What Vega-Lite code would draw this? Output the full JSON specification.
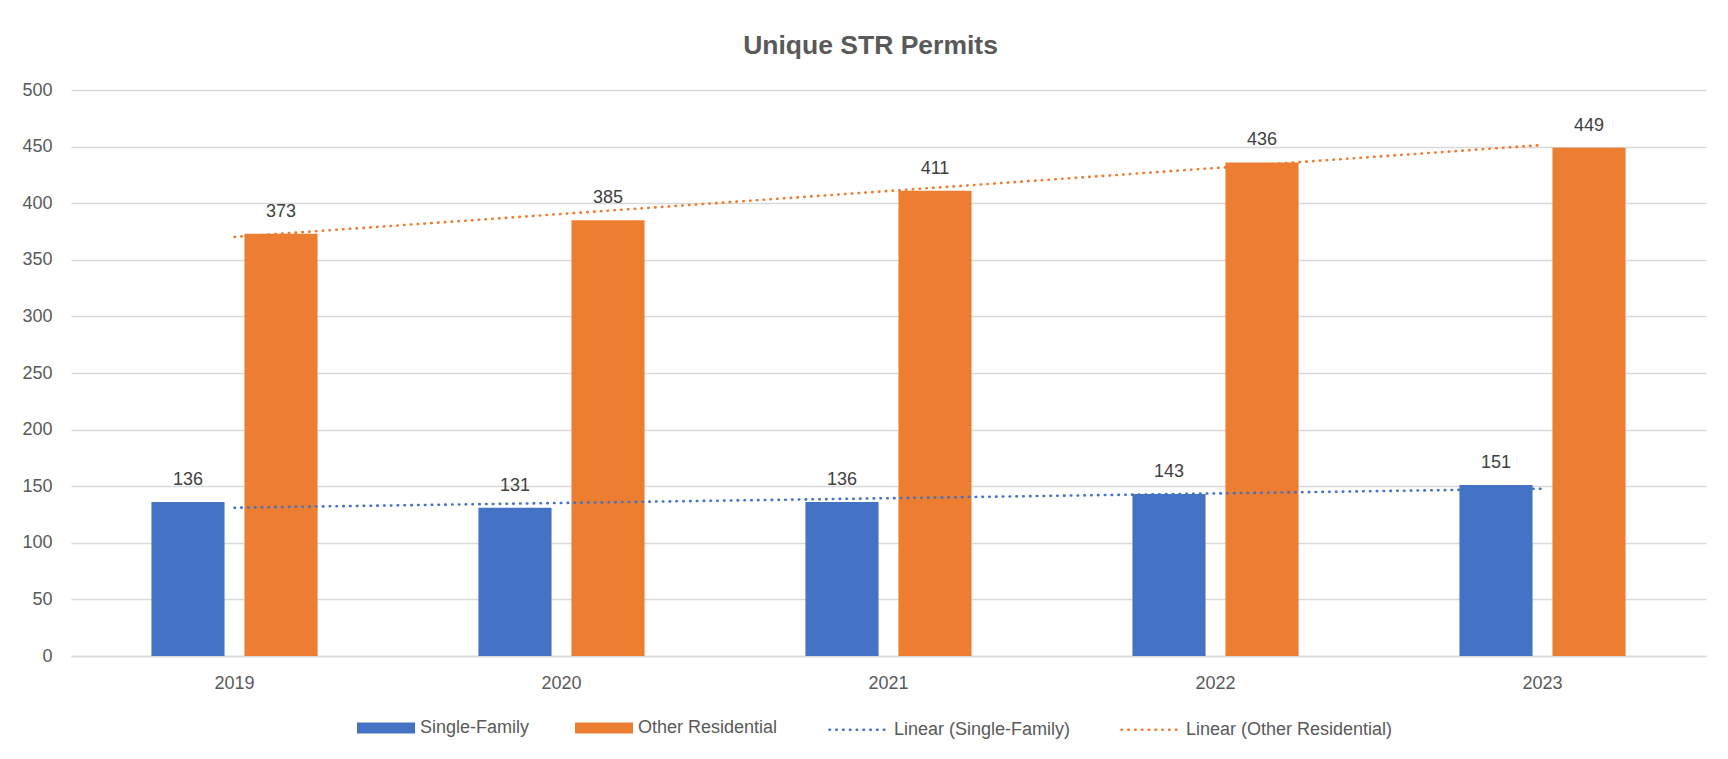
{
  "$schema": "https://vega.github.io/schema/vega-lite/v6.json",
  "width": 1635,
  "height": 566,
  "autosize": "none",
  "padding": {"left": 71, "top": 90, "right": 22, "bottom": 103},
  "background": "white",
  "title": {
    "text": "Unique STR Permits",
    "anchor": "middle",
    "font": "Liberation Sans",
    "fontSize": 26.5,
    "fontWeight": "bold",
    "color": "#595959",
    "offset": 22,
    "dx": -18
  },
  "datasets": {
    "permits": [
      {"year": "2019", "series": "Single-Family", "value": 136},
      {"year": "2019", "series": "Other Residential", "value": 373},
      {"year": "2020", "series": "Single-Family", "value": 131},
      {"year": "2020", "series": "Other Residential", "value": 385},
      {"year": "2021", "series": "Single-Family", "value": 136},
      {"year": "2021", "series": "Other Residential", "value": 411},
      {"year": "2022", "series": "Single-Family", "value": 143},
      {"year": "2022", "series": "Other Residential", "value": 436},
      {"year": "2023", "series": "Single-Family", "value": 151},
      {"year": "2023", "series": "Other Residential", "value": 449}
    ],
    "trend": [
      {"year": "2019", "series": "Linear (Single-Family)", "value": 131},
      {"year": "2023", "series": "Linear (Single-Family)", "value": 147.8},
      {"year": "2019", "series": "Linear (Other Residential)", "value": 370.2},
      {"year": "2023", "series": "Linear (Other Residential)", "value": 451.4}
    ]
  },
  "config": {
    "view": {"stroke": null},
    "font": "Liberation Sans"
  },
  "layer": [
    {
      "data": {"name": "permits"},
      "mark": {"type": "bar"},
      "encoding": {
        "x": {
          "field": "year",
          "type": "nominal",
          "scale": {"paddingInner": 0.492, "paddingOuter": 0.246},
          "axis": {
            "title": null,
            "labelAngle": 0,
            "labelFont": "Liberation Sans",
            "labelFontSize": 18,
            "labelColor": "#595959",
            "ticks": false,
            "domain": true,
            "domainColor": "#D9D9D9",
            "domainWidth": 1.3,
            "labelPadding": 18,
            "grid": false
          }
        },
        "xOffset": {
          "field": "series",
          "type": "nominal",
          "scale": {"domain": ["Single-Family", "Other Residential"], "paddingInner": 0.214, "paddingOuter": 0}
        },
        "y": {
          "field": "value",
          "type": "quantitative",
          "scale": {"domain": [0, 500], "nice": false},
          "axis": {
            "title": null,
            "values": [0, 50, 100, 150, 200, 250, 300, 350, 400, 450, 500],
            "labelFont": "Liberation Sans",
            "labelFontSize": 18,
            "labelColor": "#595959",
            "domain": false,
            "ticks": false,
            "grid": true,
            "gridColor": "#D9D9D9",
            "gridWidth": 1.3,
            "labelPadding": 19
          }
        },
        "color": {
          "field": "series",
          "type": "nominal",
          "scale": {
            "domain": ["Single-Family", "Other Residential"],
            "range": ["#4472C4", "#ED7D31"]
          },
          "legend": {
            "title": null,
            "orient": "none",
            "direction": "horizontal",
            "legendX": 286,
            "legendY": 609,
            "labelFont": "Liberation Sans",
            "labelFontSize": 18,
            "labelColor": "#595959",
            "labelLimit": 400,
            "symbolType": "M-1,-0.19L1,-0.19L1,0.19L-1,0.19Z",
            "symbolSize": 3364,
            "symbolStrokeWidth": 0,
            "symbolOpacity": 1,
            "labelOffset": 5,
            "columnPadding": 45
          }
        }
      }
    },
    {
      "data": {"name": "permits"},
      "mark": {"type": "text", "baseline": "middle", "dy": -22, "fontSize": 18, "color": "#404040", "font": "Liberation Sans"},
      "encoding": {
        "x": {"field": "year", "type": "nominal"},
        "xOffset": {"field": "series", "type": "nominal"},
        "y": {"field": "value", "type": "quantitative"},
        "text": {"field": "value", "type": "quantitative", "format": "d"}
      }
    },
    {
      "data": {"name": "trend"},
      "mark": {"type": "line", "strokeWidth": 2.6, "strokeDash": [0.5, 6.3], "strokeCap": "round"},
      "encoding": {
        "x": {"field": "year", "type": "nominal"},
        "y": {"field": "value", "type": "quantitative"},
        "stroke": {
          "field": "series",
          "type": "nominal",
          "scale": {
            "domain": ["Linear (Single-Family)", "Linear (Other Residential)"],
            "range": ["#4472C4", "#ED7D31"]
          },
          "legend": {
            "title": null,
            "orient": "none",
            "direction": "horizontal",
            "legendX": 757,
            "legendY": 609,
            "labelFont": "Liberation Sans",
            "labelFontSize": 18,
            "labelColor": "#595959",
            "labelLimit": 400,
            "symbolType": "M-1,0L1,0",
            "symbolSize": 3364,
            "symbolStrokeWidth": 2.6,
            "symbolDash": [0.5, 6.3],
            "symbolOpacity": 1,
            "labelOffset": 5,
            "columnPadding": 45,
            "encode": {
              "symbols": {"update": {"strokeCap": {"value": "round"}, "fill": {"value": "transparent"}}}
            }
          }
        }
      }
    }
  ]
}
